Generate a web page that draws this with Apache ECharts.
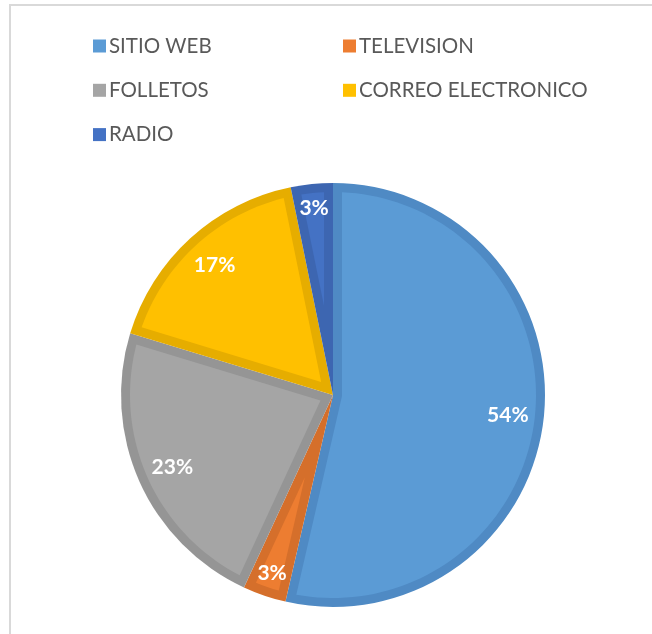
<!DOCTYPE html>
<html>
<head>
<meta charset="utf-8">
<script src="https://cdn.jsdelivr.net/npm/echarts@6/dist/echarts.min.js"></script>
<style>
  html, body { margin: 0; padding: 0; background: #ffffff; }
  #frame { position: absolute; left: 9px; top: 4px; width: 700px; height: 700px;
           border-left: 2px solid #D9D9D9; border-top: 2px solid #D9D9D9; }
  #chart { position: absolute; left: 0; top: 0; width: 652px; height: 634px; }
</style>
</head>
<body>
<div id="frame"></div>
<div id="chart"></div>
<script>
// ---- data ----
const categories = ['SITIO WEB', 'TELEVISION', 'FOLLETOS', 'CORREO ELECTRONICO', 'RADIO'];
const values = [53.6, 3.3, 22.8, 17.1, 3.2];
const fillColors = ['#5B9BD5', '#ED7D31', '#A5A5A5', '#FFC000', '#4472C4'];
const edgeColors = ['#4F8AC4', '#D56F2B', '#959595', '#E6AD00', '#3D66B1'];
const legendLeft = ['SITIO WEB', 'FOLLETOS', 'RADIO'];
const legendRight = ['TELEVISION', 'CORREO ELECTRONICO'];

// ---- layout ----
const CX = 333, CY = 395, R = 212, W = 9;
const FONT = 'Lato, "Open Sans", sans-serif';

const total = values.reduce((a, b) => a + b, 0);
function u(phiDeg, r) { // phi clockwise from top, screen coords
  const a = phiDeg * Math.PI / 180;
  return [CX + r * Math.sin(a), CY - r * Math.cos(a)];
}

function insetPolygon(p1, p2) {
  const theta = p2 - p1;
  const rho = R - W;
  const delta = Math.asin(W / rho) * 180 / Math.PI;
  const pts = [];
  if (theta < 180) {
    const d = W / Math.sin(theta / 2 * Math.PI / 180);
    pts.push(u((p1 + p2) / 2, d));
  } else {
    const aStart = p1 + 90, aEnd = p2 - 90;
    const n = 6;
    for (let k = 0; k <= n; k++) pts.push(u(aStart + (aEnd - aStart) * k / n, W));
  }
  const a0 = p2 - delta, a1 = p1 + delta;
  const steps = Math.max(4, Math.ceil((a0 - a1) / 2));
  const arc = [];
  for (let k = 0; k <= steps; k++) arc.push(u(a1 + (a0 - a1) * k / steps, rho));
  return pts.concat(arc.reverse());
}

const chart = echarts.init(document.getElementById('chart'), null, { renderer: 'canvas' });

const pieData = categories.map((c, i) => ({ name: c, value: values[i], itemStyle: { color: edgeColors[i] } }));
// labels of small slices sit a little further out than those of large slices
const isSmall = values.map(v => v < 5);
const labelDataLarge = categories.map((c, i) => ({ name: c, value: values[i], label: { show: !isSmall[i] } }));
const labelDataSmall = categories.map((c, i) => ({ name: c, value: values[i], label: { show: isSmall[i] } }));

function legendItems(list) {
  return list.map(n => ({ name: n, itemStyle: { color: fillColors[categories.indexOf(n)] } }));
}
const legendCommon = {
  orient: 'vertical', top: 29, icon: 'rect', itemWidth: 13, itemHeight: 13, itemGap: 20.3,
  selectedMode: false,
  textStyle: { fontFamily: FONT, fontSize: 20.5, color: '#595959', lineHeight: 24, padding: [0, 0, 0, -2] }
};

const labelStyle = {
  show: true, position: 'inside', color: '#ffffff', fontFamily: FONT,
  fontWeight: 'bold', fontSize: 21,
  formatter: p => Math.round(p.percent) + '%'
};

chart.setOption({
  animation: false,
  legend: [
    Object.assign({}, legendCommon, { left: 88, data: legendItems(legendLeft) }),
    Object.assign({}, legendCommon, { left: 338, data: legendItems(legendRight) })
  ],
  series: [
    {
      type: 'pie', z: 1, center: [CX, CY], radius: [0, R], startAngle: 90, clockwise: true,
      silent: true, label: { show: false }, labelLine: { show: false },
      emphasis: { disabled: true }, data: pieData
    },
    {
      type: 'custom', z: 2, coordinateSystem: 'none', silent: true,
      data: values.map((v, i) => [i, v]),
      renderItem: function (params, api) {
        const i = params.dataIndex;
        let cum = 0;
        for (let k = 0; k < i; k++) cum += values[k];
        const p1 = cum / total * 360;
        const p2 = (cum + values[i]) / total * 360;
        return {
          type: 'polygon',
          shape: { points: insetPolygon(p1, p2) },
          style: { fill: fillColors[i], stroke: null }
        };
      }
    },
    {
      type: 'pie', z: 3, center: [CX, CY], radius: [134, R], startAngle: 90, clockwise: true,
      silent: true, itemStyle: { color: 'rgba(0,0,0,0)' }, labelLine: { show: false },
      emphasis: { disabled: true }, label: labelStyle, data: labelDataLarge
    },
    {
      type: 'pie', z: 3, center: [CX, CY], radius: [158, R], startAngle: 90, clockwise: true,
      silent: true, itemStyle: { color: 'rgba(0,0,0,0)' }, labelLine: { show: false },
      emphasis: { disabled: true }, label: labelStyle, data: labelDataSmall
    }
  ]
});
</script>
</body>
</html>
